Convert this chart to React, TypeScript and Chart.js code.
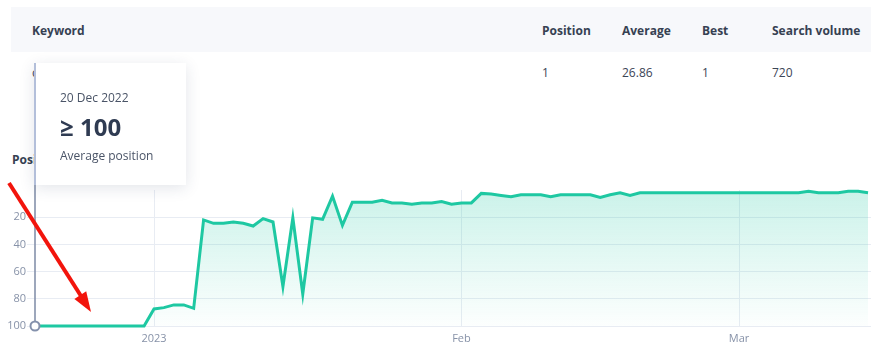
import React, { useEffect, useRef } from 'react';
import { Chart, registerables } from 'chart.js';

Chart.register(...registerables);

// ---- data ----
const positionValues: number[] = [
  100, 100, 100, 100, 100, 100, 100, 100, 100, 100, 100, 100,
  87.5, 86.5, 84.5, 84.5, 87,
  22, 24.5, 24.5, 23.5, 24.5, 26.5, 21, 23.5, 71, 20.5, 76.5, 20.5, 21.5, 4.5, 26,
  9, 9, 9, 7.5, 9.5, 9.5, 10.5, 9.5, 9.5, 8.5, 10.5, 9.5, 9.5,
  2.5, 3, 4, 5, 3.5, 3.5, 3.5, 5, 3.5, 3.5, 3.5, 3.5, 5.5, 3.5, 2, 4,
  2, 2, 2, 2, 2, 2, 2, 2, 2, 2, 2, 2, 2, 2, 2, 2, 2,
  1, 2, 2, 2, 1, 1, 2,
];
const xTickDays: number[] = [12, 43, 71];
const xTickLabels: string[] = ['2023', 'Feb', 'Mar'];
const yTicks: number[] = [20, 40, 60, 80, 100];
const tableHeaders: string[] = ['Keyword', 'Position', 'Average', 'Best', 'Search volume'];
const tableRow: string[] = ['chart', '1', '26.86', '1', '720'];
const sectionTitle = 'Position';
const tooltipDate = '20 Dec 2022';
const tooltipValue = '≥ 100';
const tooltipCaption = 'Average position';

const FONT = '"Open Sans", "Noto Sans", sans-serif';
const colX = [32, 542, 622, 702, 772];

export default function App() {
  const canvasRef = useRef<HTMLCanvasElement>(null);

  useEffect(() => {
    const canvas = canvasRef.current;
    if (!canvas) return;
    const hoverLine = {
      id: 'hoverLine',
      beforeDatasetsDraw(chart: any) {
        const p = chart.getDatasetMeta(0).data[0];
        if (!p) return;
        const ctx = chart.ctx;
        ctx.save();
        ctx.strokeStyle = '#8591ab';
        ctx.lineWidth = 1.6;
        ctx.beginPath();
        ctx.moveTo(p.x, 0);
        ctx.lineTo(p.x, p.y);
        ctx.stroke();
        ctx.restore();
      },
    };
    const chart = new Chart(canvas, {
      type: 'line',
      data: {
        datasets: [
          {
            data: positionValues.map((v, i) => ({ x: i, y: v })),
            borderColor: '#1ec8a2',
            borderWidth: 3,
            tension: 0,
            fill: { value: 100 },
            backgroundColor: (c: any) => {
              const a = c.chart.chartArea;
              if (!a) return 'rgba(30,200,162,0.15)';
              const g = c.chart.ctx.createLinearGradient(0, a.top, 0, a.bottom);
              g.addColorStop(0, 'rgba(30,200,162,0.23)');
              g.addColorStop(1, 'rgba(30,200,162,0.01)');
              return g;
            },
            pointRadius: (c: any) => (c.dataIndex === 0 ? 4.5 : 0),
            pointHoverRadius: 0,
            pointBackgroundColor: '#ffffff',
            pointBorderColor: '#8491ac',
            pointBorderWidth: 2,
            clip: false as any,
          },
        ],
      },
      options: {
        responsive: false,
        animation: false,
        events: [],
        layout: { autoPadding: false, padding: { top: 10, left: 0, right: 0, bottom: 0 } },
        plugins: { legend: { display: false }, tooltip: { enabled: false } },
        font: { family: FONT },
        scales: {
          x: {
            type: 'linear',
            min: 0,
            max: 84.3,
            afterBuildTicks: (s: any) => {
              s.ticks = xTickDays.map((v) => ({ value: v }));
            },
            afterFit: (s: any) => {
              s.height = 28;
              s.paddingLeft = 0;
              s.paddingRight = 0;
            },
            grid: { color: '#e8ecf3', drawTicks: false },
            border: { display: false },
            ticks: {
              padding: 6,
              color: '#8792a8',
              font: { family: FONT, size: 11 },
              maxRotation: 0,
              autoSkip: false,
              callback: (v: any) => {
                const i = xTickDays.indexOf(Number(v));
                return i >= 0 ? xTickLabels[i] : '';
              },
            },
          },
          y: {
            reverse: true,
            min: 0,
            max: 100,
            afterBuildTicks: (s: any) => {
              s.ticks = yTicks.map((v) => ({ value: v }));
            },
            afterFit: (s: any) => {
              s.width = 35;
            },
            grid: { color: '#e8ecf3', tickLength: 8 },
            border: { display: false },
            ticks: {
              padding: 1,
              color: '#8792a8',
              font: { family: FONT, size: 11 },
            },
          },
        },
      } as any,
      plugins: [hoverLine],
    });
    return () => chart.destroy();
  }, []);

  const textAt = (
    text: string,
    x: number,
    cy: number,
    size: number,
    weight: number,
    color: string,
    key?: string
  ) => (
    <div
      key={key}
      style={{
        position: 'absolute',
        left: x,
        top: cy - 10,
        height: 20,
        lineHeight: '20px',
        fontSize: size,
        fontWeight: weight,
        color,
        whiteSpace: 'nowrap',
        fontFamily: FONT,
      }}
    >
      {text}
    </div>
  );

  return (
    <div
      style={{
        position: 'absolute',
        left: 0,
        top: 0,
        width: 871,
        height: 354,
        overflow: 'hidden',
        background: '#ffffff',
        fontFamily: FONT,
      }}
    >
      <div
        style={{
          position: 'absolute',
          left: 11,
          top: 7,
          width: 880,
          height: 45,
          background: '#f7f8fb',
        }}
      />
      {tableHeaders.map((h, i) => textAt(h, colX[i], 31, 12, 700, '#364152', 'h' + i))}
      {tableRow.map((r, i) => textAt(r, colX[i], 73, 12, 400, '#3b4556', 'r' + i))}
      {textAt(sectionTitle, 12, 160, 12, 700, '#364152')}
      <canvas
        ref={canvasRef}
        width={871}
        height={174}
        style={{ position: 'absolute', left: 0, top: 180, width: 871, height: 174 }}
      />
      <div
        style={{
          position: 'absolute',
          left: 34,
          top: 63,
          width: 150,
          height: 122,
          background: '#ffffff',
          borderLeft: '2px solid #b3bfda',
          boxShadow: '0 3px 14px rgba(40,55,90,0.13)',
        }}
      >
        {textAt(tooltipDate, 24, 35, 12, 400, '#4a5467')}
        {textAt(tooltipValue, 24, 64, 24, 700, '#2f3b52')}
        {textAt(tooltipCaption, 24, 93, 12, 400, '#4a5467')}
      </div>
      <svg
        width={871}
        height={354}
        style={{ position: 'absolute', left: 0, top: 0, pointerEvents: 'none' }}
      >
        <line x1={9} y1={183} x2={81} y2={296} stroke="#f2140c" strokeWidth={4} />
        <polygon points="91,312 74.4,298.9 86.2,291.3" fill="#f2140c" />
      </svg>
    </div>
  );
}
